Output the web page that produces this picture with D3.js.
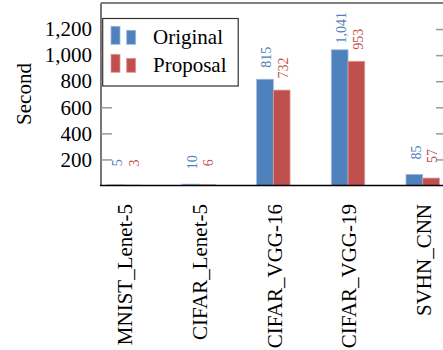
<!DOCTYPE html>
<html>
<head>
<meta charset="utf-8">
<script src="https://cdn.jsdelivr.net/npm/d3@7"></script>
<style>
  html, body { margin: 0; padding: 0; background: #fff; }
  svg { display: block; font-family: "Liberation Serif", "Times New Roman", serif; }
</style>
</head>
<body>
<svg id="chart" width="443" height="350"></svg>
<script>
// Training time per model (seconds)
const categories = ["MNIST_Lenet-5", "CIFAR_Lenet-5", "CIFAR_VGG-16", "CIFAR_VGG-19", "SVHN_CNN"];
const seriesNames = ["Original", "Proposal"];
const originalValues = [5, 10, 815, 1041, 85];
const proposalValues = [3, 6, 732, 953, 57];
const yTicks = [200, 400, 600, 800, 1000, 1200];
const colors = ["#4F81BD", "#C0504D"];
const edgeColors = ["#9DB8DC", "#E09A98"];

const svg = d3.select("#chart");

const axisLeft = 101, axisRight = 447, plotTop = 3, plotBottom = 185.5;

const x = d3.scalePoint().domain(categories).range([124, 422.7]);
const y = d3.scaleLinear().domain([0, 1400]).range([plotBottom, plotTop]);
const barW = 16.7;

const series = [originalValues, proposalValues];

// frame: top line black, left axis gray
svg.append("line").attr("x1", axisLeft).attr("x2", axisRight)
  .attr("y1", plotTop).attr("y2", plotTop).attr("stroke", "#000").attr("stroke-width", 1.2);
svg.append("line").attr("x1", axisLeft).attr("x2", axisLeft)
  .attr("y1", plotTop).attr("y2", plotBottom).attr("stroke", "#777").attr("stroke-width", 2);
svg.append("line").attr("x1", axisRight).attr("x2", axisRight)
  .attr("y1", plotTop).attr("y2", plotBottom).attr("stroke", "#777").attr("stroke-width", 2);

// y axis: inward ticks on both sides, labels on the left
const yAxisL = d3.axisLeft(y).tickValues(yTicks).tickSize(-11).tickPadding(20)
  .tickFormat(d3.format(","));
const gL = svg.append("g").attr("transform", `translate(${axisLeft},0)`).call(yAxisL);
gL.select(".domain").remove();
gL.selectAll(".tick line").attr("stroke", "#999").attr("stroke-width", 1.5);
gL.selectAll(".tick text").attr("fill", "#000").attr("font-size", 21)
  .attr("font-family", "Liberation Serif, Times New Roman, serif").attr("x", -9);

const yAxisR = d3.axisRight(y).tickValues(yTicks).tickSize(-11).tickFormat("");
const gR = svg.append("g").attr("transform", `translate(${axisRight},0)`).call(yAxisR);
gR.select(".domain").remove();
gR.selectAll(".tick line").attr("stroke", "#999").attr("stroke-width", 1.5);

// bars
series.forEach((vals, si) => {
  svg.append("g").selectAll("rect").data(vals).join("rect")
    .attr("x", (d, i) => x(categories[i]) - barW + si * barW)
    .attr("y", d => y(d))
    .attr("width", barW)
    .attr("height", d => plotBottom - y(d))
    .attr("fill", colors[si])
    .attr("stroke", edgeColors[si])
    .attr("stroke-width", 0.8);
});

// value labels above bars, rotated
series.forEach((vals, si) => {
  svg.append("g").selectAll("text").data(vals).join("text")
    .attr("transform", (d, i) => {
      const cx = x(categories[i]) - barW / 2 + si * barW + 1.5;
      return `translate(${cx},${y(d) - 22}) rotate(-90)`;
    })
    .attr("text-anchor", "middle")
    .attr("dy", "0.35em")
    .attr("font-size", 14)
    .attr("fill", colors[si])
    .text(d => d3.format(",")(d));
});

// baseline
svg.append("line").attr("x1", axisLeft - 1).attr("x2", axisRight)
  .attr("y1", plotBottom).attr("y2", plotBottom).attr("stroke", "#000").attr("stroke-width", 1.5);

// category labels, rotated
svg.append("g").selectAll("text").data(categories).join("text")
  .attr("transform", d => `translate(${x(d) + 1},204) rotate(-90)`)
  .attr("text-anchor", "end")
  .attr("dy", "0.35em")
  .attr("font-size", 21)
  .attr("fill", "#000")
  .text(d => d);

// y axis title
svg.append("text")
  .attr("transform", "translate(24,94) rotate(-90)")
  .attr("text-anchor", "middle")
  .attr("dy", "0.35em")
  .attr("font-size", 21)
  .text("Second");

// legend
const lg = svg.append("g");
lg.append("rect").attr("x", 102.7).attr("y", 18.5).attr("width", 135.5).attr("height", 67.5)
  .attr("fill", "#fff").attr("stroke", "#333").attr("stroke-width", 1.2);
const legendRows = [44.3, 72.3];
seriesNames.forEach((name, si) => {
  const base = legendRows[si];
  lg.append("rect").attr("x", 111).attr("y", base - 18).attr("width", 9).attr("height", 18)
    .attr("fill", colors[si]).attr("stroke", edgeColors[si]).attr("stroke-width", 0.8);
  lg.append("rect").attr("x", 126.7).attr("y", base - 14).attr("width", 9).attr("height", 14)
    .attr("fill", colors[si]).attr("stroke", edgeColors[si]).attr("stroke-width", 0.8);
  lg.append("text").attr("x", 153).attr("y", base).attr("font-size", 21).text(name);
});
</script>
</body>
</html>
